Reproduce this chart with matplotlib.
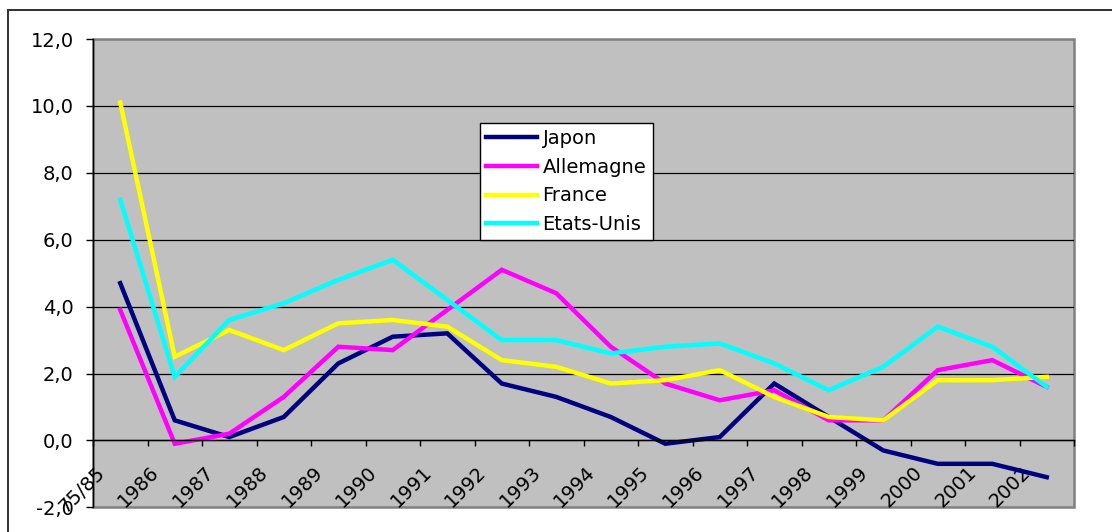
import numpy as np
import matplotlib
matplotlib.use('Agg')
import matplotlib.pyplot as plt
import matplotlib.transforms as mtransforms
from matplotlib.patches import Rectangle
from matplotlib.ticker import FuncFormatter, FixedLocator

plt.rcParams['font.family'] = ['DejaVu Sans']

years = ['75/85', '1986', '1987', '1988', '1989', '1990', '1991', '1992', '1993',
         '1994', '1995', '1996', '1997', '1998', '1999', '2000', '2001', '2002']

japon = [4.7, 0.6, 0.1, 0.7, 2.3, 3.1, 3.2, 1.7, 1.3,
         0.7, -0.1, 0.1, 1.7, 0.7, -0.3, -0.7, -0.7, -1.1]
allemagne = [3.9, -0.1, 0.2, 1.3, 2.8, 2.7, 3.9, 5.1, 4.4,
             2.8, 1.7, 1.2, 1.5, 0.6, 0.6, 2.1, 2.4, 1.6]
france = [10.1, 2.5, 3.3, 2.7, 3.5, 3.6, 3.4, 2.4, 2.2,
          1.7, 1.8, 2.1, 1.3, 0.7, 0.6, 1.8, 1.8, 1.9]
etats_unis = [7.2, 1.9, 3.6, 4.1, 4.8, 5.4, 4.2, 3.0, 3.0,
              2.6, 2.8, 2.9, 2.3, 1.5, 2.2, 3.4, 2.8, 1.6]

series = [
    ('Japon', japon, '#000080'),
    ('Allemagne', allemagne, '#FF00FF'),
    ('France', france, '#FFFF00'),
    ('Etats-Unis', etats_unis, '#00FFFF'),
]

W, H = 1112, 532
fig = plt.figure(figsize=(W / 100, H / 100), dpi=100)

# outer chart frame (runs off the right and bottom of the picture)
fig.patches.append(Rectangle((7.5 / W, -0.1), 1.2, 1.1 - 10 / H,
                             transform=fig.transFigure, fill=False,
                             edgecolor='#303030', linewidth=1.4))

ax = fig.add_axes([93 / W, 1 - 507.3 / H, (1074 - 93) / W, (507.3 - 39) / H])
ax.set_facecolor('#C0C0C0')
ax.patch.set_edgecolor('#808080')
ax.patch.set_linewidth(1.8)

x = np.arange(len(years))
for name, vals, col in series:
    ax.plot(x, vals, color=col, linewidth=3.2, label=name, solid_joinstyle='miter')

ax.set_xlim(-0.5, len(years) - 0.5)
ax.set_ylim(-2, 12)

# y axis
ax.set_yticks(np.arange(-2, 12.1, 2))
ax.yaxis.set_major_formatter(FuncFormatter(lambda v, p: '{:.1f}'.format(v).replace('.', ',')))
ax.tick_params(axis='y', direction='out', length=5, width=1, pad=9, labelsize=14)
ax.grid(axis='y', color='black', linewidth=0.9)
ax.set_axisbelow(True)
grid = ax.yaxis.get_gridlines()
grid[0].set_visible(False)
grid[-1].set_visible(False)

# x axis sits on zero, ticks between categories, labels on categories
ax.spines['bottom'].set_position(('data', 0))
ax.spines['bottom'].set_linewidth(1)
ax.spines['left'].set_linewidth(1)
ax.spines['top'].set_visible(False)
ax.spines['right'].set_visible(False)
ax.set_xticks(x)
ax.set_xticklabels(years, rotation=45, ha='right', va='top')
ax.xaxis.set_minor_locator(FixedLocator(np.arange(-0.5, len(years), 1)))
ax.tick_params(axis='x', which='major', length=0, pad=16, labelsize=14)
ax.tick_params(axis='x', which='minor', direction='out', length=4, width=1)
shift = mtransforms.ScaledTranslation(-0.12, 0, fig.dpi_scale_trans)
for lab in ax.get_xticklabels():
    lab.set_transform(lab.get_transform() + shift)

leg = ax.legend(loc='upper left', bbox_to_anchor=(480 / W, 1 - 122.7 / H),
                bbox_transform=fig.transFigure, borderaxespad=0,
                frameon=True, fancybox=False, fontsize=14,
                handlelength=2.6, handletextpad=0.3, labelspacing=0.5,
                borderpad=0.32)
leg.get_frame().set_edgecolor('black')
leg.get_frame().set_linewidth(1)
leg.get_frame().set_facecolor('white')
leg.get_frame().set_alpha(1)

fig.savefig('out.png', dpi=100)
